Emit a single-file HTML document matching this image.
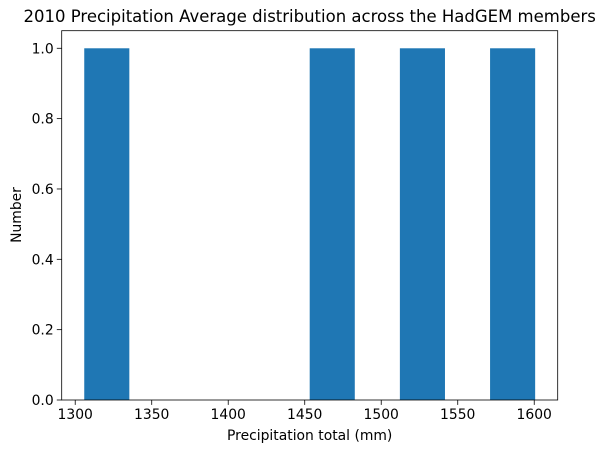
<!DOCTYPE html>
<html><head><meta charset="utf-8"><style>body{margin:0;background:#fff}svg{display:block}text{font-family:"DejaVu Sans","Liberation Sans",sans-serif;fill:#000}</style></head>
<body>
<svg id="chart" width="608" height="453" viewBox="0 0 608 453" xmlns="http://www.w3.org/2000/svg">
<text x="309.7" y="22" font-size="16.5" text-anchor="middle">2010 Precipitation Average distribution across the HadGEM members</text>
<g id="bars"></g>
<rect x="61.7" y="30.7" width="496" height="369.3" fill="none" stroke="#000" stroke-width="0.8"/>
<g id="xticks"></g><g id="yticks"></g>
<text x="309.7" y="440" font-size="13.9" text-anchor="middle">Precipitation total (mm)</text>
<text transform="translate(21,215) rotate(-90)" font-size="13.9" text-anchor="middle">Number</text>
</svg>
<script>
const binMin = 1305.9;
const binMax = 1600.6;
const counts = [1,0,0,0,0,1,0,1,0,1];
const xTicks = [1300,1350,1400,1450,1500,1550,1600];
const yTicks = [0.0,0.2,0.4,0.6,0.8,1.0];
const L=61.7,R=557.7,T=30.7,B=400;
const span=binMax-binMin, x0=binMin-0.05*span, x1=binMax+0.05*span;
const ymax=Math.max(...counts)*1.05;
const sx=v=>L+(v-x0)/(x1-x0)*(R-L);
const sy=v=>B-v/ymax*(B-T);
const NS='http://www.w3.org/2000/svg';
const bw=span/counts.length;
const gb=document.getElementById('bars');
counts.forEach((c,i)=>{if(!c)return;const r=document.createElementNS(NS,'rect');


const a=sx(binMin+i*bw),b=sx(binMin+(i+1)*bw);
r.setAttribute('x',a);r.setAttribute('width',b-a);r.setAttribute('y',sy(c));r.setAttribute('height',B-sy(c));r.setAttribute('fill','#1f77b4');gb.appendChild(r);});
const gx=document.getElementById('xticks');
xTicks.forEach(v=>{const x=sx(v);const l=document.createElementNS(NS,'line');


l.setAttribute('x1',x);l.setAttribute('x2',x);l.setAttribute('y1',B);l.setAttribute('y2',B+4.9);l.setAttribute('stroke','#000');l.setAttribute('stroke-width','0.8');gx.appendChild(l);
const t=document.createElementNS(NS,'text');


t.setAttribute('x',x);t.setAttribute('y',B+19);t.setAttribute('font-size','13.9');t.setAttribute('text-anchor','middle');t.textContent=v;gx.appendChild(t);});
const gy=document.getElementById('yticks');
yTicks.forEach(v=>{const y=sy(v);const l=document.createElementNS(NS,'line');


l.setAttribute('x1',L-4.9);l.setAttribute('x2',L);l.setAttribute('y1',y);l.setAttribute('y2',y);l.setAttribute('stroke','#000');l.setAttribute('stroke-width','0.8');gy.appendChild(l);
const t=document.createElementNS(NS,'text');


t.setAttribute('x',L-8);t.setAttribute('y',y+5);t.setAttribute('font-size','13.9');t.setAttribute('text-anchor','end');t.textContent=v.toFixed(1);gy.appendChild(t);});
</script>
</body></html>
